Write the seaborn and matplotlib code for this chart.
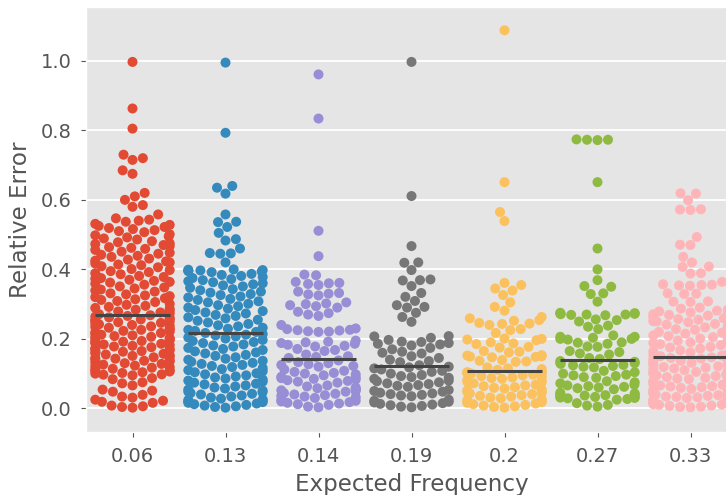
import warnings

import matplotlib
matplotlib.use("Agg")
import matplotlib.pyplot as plt
import numpy as np
import pandas as pd
import seaborn as sns

warnings.filterwarnings("ignore")

# Category labels (expected frequency) and the ggplot colour cycle
freq_labels = ["0.06", "0.13", "0.14", "0.19", "0.2", "0.27", "0.33"]
colors = ["#E24A33", "#348ABD", "#988ED5", "#777777", "#FBC15E", "#8EBA42", "#FFB5B8"]

# Relative error per run, one list per expected frequency
err_006 = [0.002, 0.004, 0.006, 0.008, 0.016, 0.019, 0.022, 0.025, 0.031,
           0.034, 0.039, 0.048, 0.051, 0.054, 0.066, 0.072, 0.075,
           0.084, 0.087, 0.095, 0.097, 0.098,
           0.1, 0.102, 0.104, 0.106, 0.108, 0.11, 0.112, 0.114, 0.117, 0.119, 0.121,
           0.123, 0.126, 0.128, 0.13, 0.132, 0.135, 0.137, 0.139, 0.141, 0.143, 0.145,
           0.147, 0.149,
           0.151, 0.153, 0.155, 0.157, 0.159, 0.161, 0.163, 0.165, 0.167, 0.169, 0.171,
           0.173, 0.176, 0.178, 0.18, 0.182, 0.184, 0.186, 0.188, 0.19, 0.192, 0.194,
           0.196, 0.198,
           0.2, 0.202, 0.204, 0.206, 0.208, 0.21, 0.212, 0.214, 0.217, 0.219, 0.221,
           0.223, 0.226, 0.228, 0.23, 0.232, 0.234, 0.236, 0.238, 0.24, 0.242, 0.244,
           0.246, 0.248,
           0.25, 0.252, 0.254, 0.256, 0.258, 0.26, 0.262, 0.264, 0.266, 0.268,
           0.271, 0.273, 0.276, 0.279, 0.281, 0.284, 0.287, 0.289, 0.292, 0.295, 0.298,
           0.301, 0.306, 0.309, 0.312, 0.314, 0.317, 0.32, 0.323, 0.325, 0.328,
           0.331, 0.336, 0.339, 0.342, 0.345, 0.348,
           0.351, 0.356, 0.359, 0.362, 0.364, 0.367, 0.37, 0.373, 0.375, 0.378,
           0.381, 0.386, 0.389, 0.392, 0.395, 0.398,
           0.401, 0.406, 0.409, 0.412, 0.414, 0.417, 0.42, 0.423, 0.425, 0.428,
           0.431, 0.436, 0.439, 0.442, 0.445, 0.448,
           0.451, 0.456, 0.459, 0.462, 0.464, 0.467, 0.47, 0.473, 0.475, 0.478,
           0.481, 0.486, 0.489, 0.492, 0.495, 0.498,
           0.501, 0.507, 0.51, 0.513, 0.516, 0.519, 0.522, 0.525, 0.528, 0.531,
           0.537, 0.54, 0.543, 0.547,
           0.558, 0.58, 0.585, 0.60, 0.61, 0.62, 0.675, 0.685, 0.715, 0.72, 0.73,
           0.805, 0.863, 0.997]

err_013 = [0.995, 0.793, 0.64, 0.635, 0.618, 0.558, 0.536, 0.537, 0.522, 0.505, 0.487,
           0.483, 0.46, 0.446, 0.447, 0.445, 0.42,
           0.392, 0.394, 0.395, 0.396, 0.397, 0.398, 0.399, 0.4,
           0.351, 0.354, 0.357, 0.36, 0.363, 0.366, 0.369, 0.372, 0.375, 0.378, 0.381,
           0.384, 0.387,
           0.301, 0.305, 0.308, 0.312, 0.315, 0.319, 0.322, 0.326, 0.329, 0.333, 0.336,
           0.34, 0.343, 0.347,
           0.252, 0.255, 0.259, 0.262, 0.266, 0.269, 0.273, 0.276, 0.28, 0.283, 0.287,
           0.29, 0.294, 0.297,
           0.217, 0.22, 0.223, 0.226, 0.229, 0.232, 0.236, 0.239, 0.243, 0.247,
           0.201, 0.204, 0.207, 0.21, 0.212, 0.214,
           0.151, 0.154, 0.158, 0.161, 0.164, 0.168, 0.171, 0.174, 0.178, 0.181, 0.184,
           0.188, 0.191, 0.194, 0.197,
           0.101, 0.104, 0.107, 0.11, 0.113, 0.116, 0.119, 0.122, 0.125, 0.128, 0.131,
           0.134, 0.137, 0.14, 0.143, 0.147,
           0.051, 0.054, 0.057, 0.06, 0.063, 0.066, 0.069, 0.071, 0.074, 0.077, 0.08,
           0.083, 0.086, 0.089, 0.092, 0.095, 0.098,
           0.002, 0.004, 0.006, 0.008, 0.01, 0.012, 0.014, 0.016, 0.018, 0.02, 0.022,
           0.024, 0.026, 0.028, 0.031, 0.034, 0.037, 0.04, 0.042, 0.044, 0.046, 0.048]

err_014 = [0.961, 0.834, 0.511, 0.438,
           0.383, 0.385, 0.361, 0.358, 0.364, 0.36, 0.355, 0.332, 0.328, 0.336, 0.33,
           0.325, 0.297, 0.302, 0.29, 0.3, 0.294, 0.305, 0.274, 0.27, 0.278, 0.266, 0.24,
           0.22, 0.222, 0.224, 0.225, 0.226, 0.221, 0.228, 0.23,
           0.18, 0.183, 0.186, 0.188, 0.19, 0.192, 0.195, 0.178,
           0.165, 0.168, 0.171,
           0.145, 0.148, 0.15, 0.155,
           0.12, 0.122, 0.125, 0.127, 0.13, 0.133, 0.138,
           0.095, 0.098, 0.1, 0.102, 0.105, 0.108, 0.112,
           0.074, 0.077, 0.079, 0.081, 0.083, 0.085, 0.087, 0.089, 0.091,
           0.048, 0.05, 0.052, 0.054, 0.056, 0.058, 0.06, 0.063, 0.066,
           0.03, 0.032, 0.034, 0.036, 0.038, 0.04, 0.042, 0.044,
           0.01, 0.012, 0.014, 0.016, 0.018, 0.02, 0.022, 0.025,
           0.003, 0.005]

err_019 = [0.997, 0.611, 0.467,
           0.419, 0.42, 0.398, 0.371, 0.369, 0.368, 0.352, 0.332, 0.321, 0.309, 0.297,
           0.292, 0.29, 0.275, 0.263, 0.249,
           0.208, 0.207, 0.203,
           0.197, 0.191, 0.188, 0.192,
           0.184, 0.174, 0.17, 0.186, 0.181,
           0.163, 0.16, 0.158,
           0.124, 0.133, 0.136, 0.14, 0.145, 0.15,
           0.105, 0.108, 0.112, 0.115, 0.118, 0.12,
           0.085, 0.088, 0.09, 0.093, 0.096, 0.1,
           0.062, 0.065, 0.067, 0.07, 0.072, 0.075, 0.078, 0.08,
           0.035, 0.037, 0.039, 0.041, 0.043, 0.045, 0.048, 0.05, 0.053,
           0.003, 0.005, 0.007, 0.009, 0.011, 0.013, 0.015, 0.017, 0.019, 0.022, 0.025]

err_020 = [1.088, 0.651, 0.565, 0.539,
           0.361, 0.355, 0.345, 0.339, 0.326, 0.305, 0.292, 0.281, 0.263, 0.259, 0.254,
           0.252, 0.244, 0.24, 0.246, 0.243, 0.225, 0.228, 0.217, 0.201, 0.2, 0.198,
           0.196, 0.187, 0.185, 0.19, 0.177, 0.175, 0.163, 0.165, 0.161, 0.15, 0.148,
           0.152, 0.147, 0.153, 0.149, 0.137, 0.135, 0.139, 0.134, 0.118, 0.115, 0.113,
           0.111,
           0.1, 0.101, 0.102, 0.103, 0.104, 0.106,
           0.072, 0.075, 0.077, 0.08, 0.082, 0.085, 0.087, 0.089, 0.091, 0.093, 0.095, 0.097,
           0.041, 0.043, 0.045, 0.047, 0.05, 0.052, 0.054, 0.057, 0.059, 0.061, 0.064,
           0.066, 0.068,
           0.002, 0.004, 0.006, 0.008, 0.01, 0.012, 0.014, 0.016, 0.018, 0.02, 0.022,
           0.024, 0.026, 0.029, 0.031, 0.034, 0.036, 0.038]

err_027 = [0.773, 0.772, 0.774, 0.773, 0.651, 0.46, 0.40, 0.369, 0.352, 0.35, 0.331,
           0.329, 0.307,
           0.268, 0.269, 0.27, 0.271, 0.272, 0.273, 0.274, 0.275, 0.27,
           0.254, 0.25, 0.256,
           0.235, 0.228, 0.238,
           0.203, 0.206, 0.2, 0.198, 0.2, 0.206, 0.21,
           0.189, 0.186, 0.177, 0.178, 0.19,
           0.162, 0.165, 0.158, 0.155,
           0.145, 0.142,
           0.136, 0.134, 0.13, 0.128, 0.125, 0.122, 0.12, 0.118, 0.124, 0.131,
           0.088, 0.09, 0.093, 0.095, 0.097, 0.1, 0.104, 0.108,
           0.072, 0.075, 0.078,
           0.055, 0.058, 0.06, 0.062, 0.064, 0.066, 0.068,
           0.025, 0.027, 0.029, 0.031, 0.033, 0.035, 0.037, 0.039, 0.041, 0.043, 0.045,
           0.03, 0.034, 0.038,
           0.005, 0.008, 0.01, 0.015]

err_033 = [0.618, 0.619, 0.599, 0.572, 0.571, 0.573, 0.493, 0.47, 0.471, 0.436, 0.42,
           0.407, 0.408, 0.388, 0.389, 0.364, 0.355, 0.356, 0.354, 0.357, 0.353, 0.33,
           0.331, 0.329, 0.307, 0.306, 0.308,
           0.29, 0.287, 0.284, 0.281, 0.279, 0.276, 0.274, 0.271, 0.269, 0.267, 0.264,
           0.262, 0.259, 0.257, 0.255, 0.253, 0.251, 0.25,
           0.248, 0.243, 0.241, 0.236, 0.233, 0.228, 0.226, 0.22, 0.218, 0.215, 0.21,
           0.208, 0.205, 0.203, 0.201,
           0.198, 0.195, 0.19, 0.188, 0.185, 0.182, 0.177, 0.175, 0.172, 0.167, 0.164,
           0.161, 0.156, 0.154, 0.152, 0.15,
           0.147, 0.145, 0.143, 0.141, 0.139, 0.137, 0.135, 0.133, 0.131, 0.128, 0.126,
           0.124, 0.121, 0.119, 0.117, 0.115, 0.112, 0.11, 0.108, 0.105, 0.103, 0.101,
           0.099, 0.097, 0.095, 0.093, 0.09, 0.088, 0.086, 0.084, 0.081, 0.079, 0.077,
           0.075, 0.072, 0.07, 0.068, 0.066, 0.063, 0.061, 0.059, 0.056, 0.054, 0.052,
           0.049, 0.047, 0.045, 0.043, 0.041, 0.038, 0.036, 0.034, 0.032, 0.03, 0.027,
           0.025, 0.023, 0.021, 0.019, 0.017, 0.014, 0.012, 0.01, 0.008, 0.005, 0.003,
           0.004, 0.007, 0.011, 0.016, 0.022, 0.028, 0.033, 0.04, 0.046, 0.064]

groups = [err_006, err_013, err_014, err_019, err_020, err_027, err_033]

df = pd.DataFrame({
    "Expected Frequency": [lab for lab, g in zip(freq_labels, groups) for _ in g],
    "Relative Error": [v for g in groups for v in g],
})

plt.style.use("ggplot")

W, H = 726, 495
fig = plt.figure(figsize=(W / 100, H / 100), dpi=100)
# axes run slightly past the right edge of the canvas
left, right, top, bottom = 86, 737, 7, 432
ax = fig.add_axes([left / W, (H - bottom) / H, (right - left) / W, (bottom - top) / H])

sns.swarmplot(data=df, x="Expected Frequency", y="Relative Error",
              hue="Expected Frequency", order=freq_labels, hue_order=freq_labels,
              palette=colors, size=7.2, legend=False, ax=ax)

# median bar for each group
for i, g in enumerate(groups):
    ax.hlines(np.median(g), i - 0.4, i + 0.4, colors="#444444", linewidth=2.2, zorder=5)

ax.set_xlim(-0.5, len(freq_labels) - 0.5)
ax.set_ylim(-0.068, 1.155)
ax.set_yticks([0.0, 0.2, 0.4, 0.6, 0.8, 1.0])
ax.yaxis.grid(True, color="white", linewidth=1.3)
ax.xaxis.grid(False)
ax.tick_params(labelsize=14, colors="#555555", labelcolor="#555555", pad=7)
ax.set_xlabel("Expected Frequency", fontsize=16.6, color="#555555", labelpad=5)
ax.set_ylabel("Relative Error", fontsize=16.6, color="#555555", labelpad=6)

fig.savefig("out.png", dpi=100)
